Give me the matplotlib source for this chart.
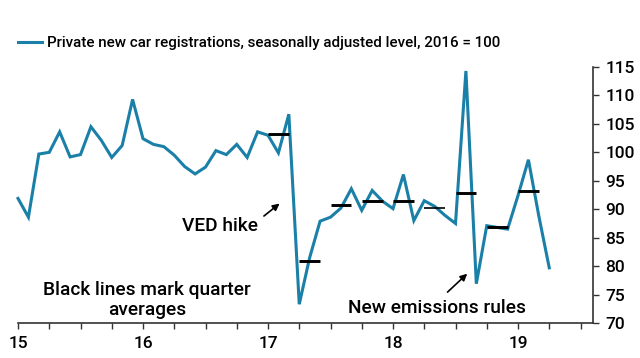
import matplotlib
matplotlib.use("Agg")
import matplotlib.pyplot as plt
from matplotlib.lines import Line2D
import numpy as np

plt.rcParams['font.family'] = ['Roboto', 'DejaVu Sans']

# monthly index values, Jan 2015 - Apr 2019
vals_2015 = [91.9, 88.6, 99.7, 100.0, 103.6, 99.2, 99.6, 104.5, 102.1, 99.1, 101.2, 109.3]
vals_2016 = [102.4, 101.4, 101.0, 99.5, 97.5, 96.2, 97.4, 100.3, 99.6, 101.4, 99.1, 103.6]
vals_2017 = [103.0, 99.9, 106.7, 73.3, 81.5, 87.9, 88.6, 90.2, 93.6, 89.8, 93.3, 91.4]
vals_2018 = [90.1, 96.1, 88.0, 91.5, 90.5, 88.9, 87.5, 114.3, 76.9, 87.1, 86.8, 86.5]
vals_2019 = [92.4, 98.7, 88.8, 79.7]

# quarter averages Q1 2017 - Q1 2019
quarter_starts = [17.0, 17.25, 17.5, 17.75, 18.0, 18.25, 18.5, 18.75, 19.0]
quarter_avgs = [103.2, 80.9, 90.8, 91.5, 91.4, 90.3, 92.9, 86.8, 93.2]

year_ticks = [15, 16, 17, 18, 19]
year_labels = ["15", "16", "17", "18", "19"]
y_ticks = [70, 75, 80, 85, 90, 95, 100, 105, 110, 115]

values = np.array(vals_2015 + vals_2016 + vals_2017 + vals_2018 + vals_2019)
x = 15 + np.arange(len(values)) / 12

blue = '#1a80a8'
note_size = 13.8

fig = plt.figure(figsize=(6.4, 3.58), dpi=100)
ax = fig.add_axes([18/640, 1 - 323/358, 575/640, 256/358])

ax.plot(x, values, color=blue, lw=2.2, solid_joinstyle='miter', zorder=3, clip_on=False)
for qs, qa in zip(quarter_starts, quarter_avgs):
    lw = 1.2 if qs == 18.25 else 2.1
    ax.plot([qs, qs + 2/12], [qa, qa], color='black', lw=lw, zorder=4, solid_capstyle='butt')

ax.set_xlim(15, 19.6)
ax.set_ylim(70, 115)

ax.spines['top'].set_visible(False)
ax.spines['left'].set_visible(False)
ax.spines['bottom'].set_linewidth(1.2)
ax.spines['right'].set_linewidth(1.2)
ax.spines['bottom'].set_color('#333333')
ax.spines['right'].set_color('#333333')

ax.set_xticks(year_ticks)
ax.set_xticklabels(year_labels)
ax.set_xticks(np.arange(15, 19.6, 0.25), minor=True)
ax.tick_params(axis='x', which='both', direction='out', length=4, width=1, colors='#333333',
               labelcolor='black', labelsize=12.5, pad=5)

ax.yaxis.tick_right()
ax.set_yticks(y_ticks)
ax.tick_params(axis='y', direction='out', length=4, width=1, colors='#333333',
               labelcolor='black', labelsize=12.5, pad=5)
for lab in ax.get_xticklabels() + ax.get_yticklabels():
    lab.set_fontweight('medium')

ax.annotate("", xy=(17.11, 91.3), xytext=(16.95, 88.5),
            arrowprops=dict(arrowstyle='-|>', color='black', lw=1.2, mutation_scale=10))
ax.text(16.92, 87.1, "VED hike", ha='right', va='center', fontsize=note_size, fontweight='medium')

ax.annotate("", xy=(18.61, 79.0), xytext=(18.42, 75.1),
            arrowprops=dict(arrowstyle='-|>', color='black', lw=1.2, mutation_scale=10))
ax.text(18.35, 72.6, "New emissions rules", ha='center', va='center', fontsize=note_size,
        fontweight='medium')

ax.text(16.03, 74.1, "Black lines mark quarter\naverages", ha='center', va='center',
        fontsize=note_size, fontweight='medium', linespacing=1.15)

handle = Line2D([], [], color=blue, lw=2.2)
fig.legend([handle], ["Private new car registrations, seasonally adjusted level, 2016 = 100"],
           loc='center left', bbox_to_anchor=(18/640, 1 - 43/358), frameon=False,
           prop=dict(size=10.9, weight='medium'), handlelength=1.6, handletextpad=0.3,
           borderpad=0, borderaxespad=0)

fig.savefig("out.png", dpi=100)
